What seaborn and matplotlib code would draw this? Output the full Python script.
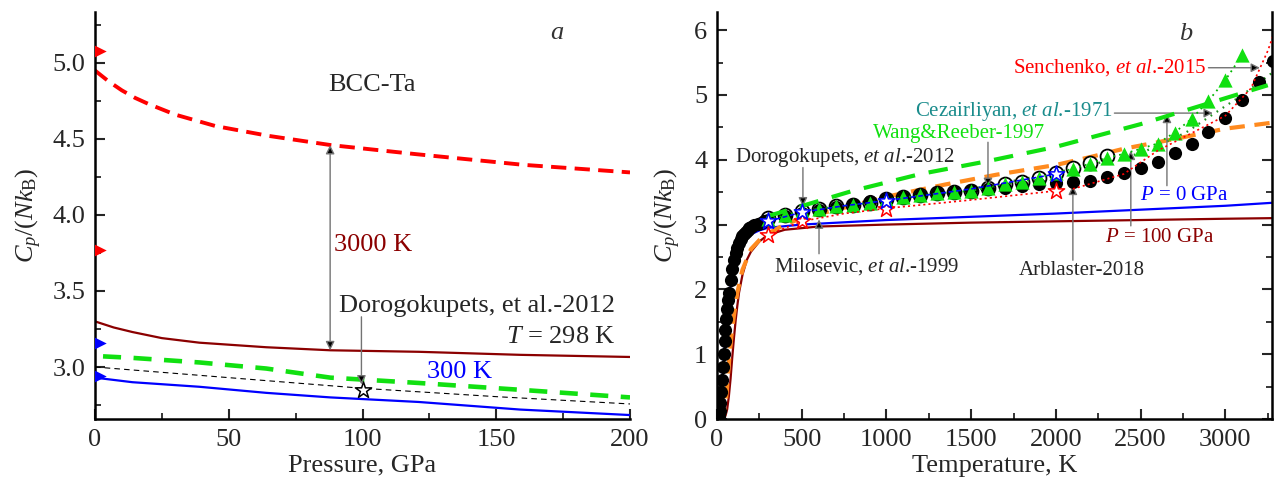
import matplotlib
matplotlib.use("Agg")
import matplotlib.pyplot as plt
import seaborn as sns
from matplotlib.ticker import MultipleLocator, FormatStrFormatter

sns.set_style("ticks")
plt.rcParams.update({
    "font.family": ["Liberation Serif", "DejaVu Serif"],
    "mathtext.fontset": "custom",
    "mathtext.rm": "Liberation Serif",
    "mathtext.it": "Liberation Serif:italic",
    "mathtext.bf": "Liberation Serif:bold",
    "xtick.direction": "in",
    "ytick.direction": "in",
    "lines.scale_dashes": False,
    "axes.linewidth": 1.8,
    "axes.edgecolor": "black",
})

# ---------------- panel (a): Cp vs pressure ----------------
P_red3000 = [0, 5, 10, 15, 20, 30, 45, 65, 88, 120, 160, 200]
Cp_red3000 = [4.95, 4.88, 4.82, 4.77, 4.73, 4.66, 4.585, 4.52, 4.46, 4.40, 4.33, 4.28]

P_dr3000 = [0, 7, 14, 25, 39, 64, 88, 121, 159, 200]
Cp_dr3000 = [3.30, 3.26, 3.23, 3.19, 3.16, 3.13, 3.11, 3.10, 3.08, 3.066]

P_green = [3, 14, 39, 64, 88, 121, 159, 200]
Cp_green = [3.07, 3.06, 3.03, 2.99, 2.93, 2.895, 2.85, 2.80]

P_black = [0, 50, 100, 150, 200]
Cp_black = [3.00, 2.93, 2.86, 2.805, 2.757]

P_blue300 = [0, 14, 39, 64, 88, 121, 159, 200]
Cp_blue300 = [2.93, 2.90, 2.87, 2.83, 2.80, 2.77, 2.72, 2.684]

P_tri = [2, 2]
Cp_tri_red = [5.08, 3.77]
Cp_tri_blue = [3.16, 2.94]

P_star = [100]
Cp_star = [2.85]

# ---------------- panel (b): Cp vs temperature ----------------
T_p0 = [0, 10, 20, 30, 40, 50, 60, 70, 80, 100, 120, 150, 200, 250, 300, 500,
        1000, 1500, 2000, 2500, 3000, 3300]
Cp_p0 = [0, 0.03, 0.2, 0.55, 0.95, 1.3, 1.6, 1.85, 2.05, 2.35, 2.55, 2.72, 2.85,
         2.91, 2.95, 3.0, 3.07, 3.12, 3.17, 3.23, 3.29, 3.34]

T_p100 = [0, 50, 60, 70, 80, 90, 100, 110, 120, 130, 150, 175, 200, 250, 300, 400,
          600, 1000, 1500, 2000, 2500, 3000, 3300]
Cp_p100 = [0, 0.05, 0.15, 0.35, 0.62, 0.95, 1.25, 1.52, 1.75, 1.95, 2.22, 2.45,
           2.58, 2.74, 2.84, 2.92, 2.97, 3.0, 3.03, 3.05, 3.07, 3.09, 3.10]

T_orange = [0, 40, 50, 60, 70, 80, 90, 100, 120, 150, 200, 250, 300, 400, 500, 750,
            1000, 1350, 1650, 2000, 2200, 2400, 2700, 3000, 3300]
Cp_orange = [0, 0.05, 0.2, 0.5, 0.85, 1.15, 1.4, 1.6, 1.95, 2.3, 2.62, 2.76, 2.86,
             3.0, 3.1, 3.26, 3.43, 3.62, 3.77, 3.92, 4.04, 4.17, 4.32, 4.48, 4.58]

T_gdash = [300, 800, 1200, 1600, 2000, 2500, 3000, 3250]
Cp_gdash = [3.13, 3.52, 3.78, 3.98, 4.20, 4.55, 4.95, 5.15]

# Arblaster-2018 (filled circles)
T_arb = [10, 15, 20, 25, 30, 35, 40, 45, 50, 55, 60, 65, 70, 80, 90, 100, 110, 120,
         130, 140, 150, 160, 170, 180, 190, 200, 220, 240, 260, 280, 298,
         400, 500, 600, 700, 800, 900, 1000, 1100, 1200, 1300, 1400, 1500, 1600,
         1700, 1800, 1900, 2000, 2100, 2200, 2300, 2400, 2500, 2600, 2700, 2800,
         2900, 3000, 3100, 3200, 3280]
Cp_arb = [0.04, 0.12, 0.25, 0.42, 0.6, 0.8, 1.0, 1.2, 1.38, 1.55, 1.7, 1.83, 1.95,
          2.15, 2.32, 2.45, 2.56, 2.64, 2.71, 2.77, 2.82, 2.86, 2.89, 2.92, 2.94,
          2.96, 2.99, 3.01, 3.03, 3.05, 3.07,
          3.13, 3.18, 3.23, 3.27, 3.31, 3.36, 3.40, 3.43, 3.46, 3.49, 3.51, 3.53,
          3.55, 3.57, 3.60, 3.62, 3.64, 3.65, 3.68, 3.73, 3.79, 3.88, 3.97, 4.10,
          4.25, 4.43, 4.65, 4.92, 5.20, 5.52]

# open circles
T_open = [300, 400, 500, 600, 700, 800, 900, 1000, 1100, 1200, 1300, 1400, 1500,
          1600, 1700, 1800, 1900, 2000, 2100, 2200, 2300]
Cp_open = [3.10, 3.14, 3.21, 3.24, 3.28, 3.30, 3.34, 3.39, 3.42, 3.45, 3.48, 3.50,
           3.52, 3.57, 3.63, 3.66, 3.72, 3.80, 3.88, 3.95, 4.06]

# triangles joined by a dotted line
T_tri = [300, 400, 500, 600, 700, 800, 900, 1000, 1100, 1200, 1300, 1400, 1500,
         1600, 1700, 1800, 1900, 2000, 2100, 2200, 2300, 2400, 2500, 2600, 2700,
         2800, 2900, 3000, 3100]
Cp_tri = [3.08, 3.14, 3.22, 3.24, 3.28, 3.30, 3.34, 3.39, 3.42, 3.45, 3.48, 3.50,
          3.52, 3.57, 3.63, 3.66, 3.72, 3.80, 3.86, 3.94, 4.03, 4.09, 4.17, 4.25,
          4.42, 4.63, 4.91, 5.23, 5.62]

# Cezairliyan-1971 (dotted)
T_cez = [1500, 2000, 2500, 2767, 2926, 3100, 3275]
Cp_cez = [3.55, 3.80, 4.10, 4.42, 4.70, 5.00, 5.34]

# Senchenko-2015 (red dotted)
T_sen = [2100, 2400, 2600, 2800, 3000, 3150, 3250, 3300]
Cp_sen = [3.55, 3.78, 4.14, 4.41, 4.68, 5.10, 5.68, 6.05]

# stars with lines at 0 and 100 GPa
T_star = [300, 500, 1000, 2000]
Cp_star_p0 = [3.05, 3.20, 3.37, 3.78]
Cp_star_p100 = [2.84, 3.05, 3.24, 3.52]
T_sline = [300, 500, 750, 1000, 1500, 2000]
Cp_sline_p0 = [3.05, 3.19, 3.29, 3.37, 3.55, 3.78]
Cp_sline_p100 = [2.84, 3.05, 3.17, 3.25, 3.38, 3.52]

RED = "#ff0000"
DRED = "#8b0000"
GREEN = "#11e011"
BLUE = "#0000ff"
ORANGE = "#ff8a1e"
TEAL = "#1a8c8c"
DGREEN = "#1e8f1e"

W, H = 1274, 488
fig = plt.figure(figsize=(W / 100, H / 100), dpi=100)
ax1 = fig.add_axes([95 / W, 1 - 419 / H, (630 - 95) / W, (419 - 12) / H])
ax2 = fig.add_axes([717 / W, 1 - 419 / H, (1272 - 717) / W, (419 - 12) / H])


def line(ax, x, y, color, lw, dashes=None, z=2):
    sns.lineplot(x=x, y=y, ax=ax, color=color, linewidth=lw, sort=False,
                 estimator=None, legend=False, zorder=z)
    ln = ax.lines[-1]
    if dashes is not None:
        ln.set_dashes(dashes)
    return ln


def points(ax, x, y, marker, s, face, edge, lw=0.0, z=4):
    sns.scatterplot(x=x, y=y, ax=ax, marker=marker, s=s, color=face,
                    edgecolor=edge, linewidth=lw, legend=False, zorder=z)


FS = 19

# ---- panel (a)
line(ax1, P_red3000, Cp_red3000, RED, 2.8, dashes=(11, 6))
line(ax1, P_dr3000, Cp_dr3000, DRED, 1.6)
line(ax1, P_green, Cp_green, GREEN, 3.3, dashes=(13, 9))
line(ax1, P_black, Cp_black, "black", 0.8, dashes=(4, 3))
line(ax1, P_blue300, Cp_blue300, BLUE, 1.6)
points(ax1, P_tri, Cp_tri_red, ">", 80, RED, RED)
points(ax1, P_tri, Cp_tri_blue, ">", 80, BLUE, BLUE)
points(ax1, P_star, Cp_star, "*", 150, "white", "black", lw=1.1, z=6)

ax1.set_xlim(0, 200)
ax1.set_ylim(2.658, 5.335)
ax1.xaxis.set_major_locator(MultipleLocator(50))
ax1.xaxis.set_minor_locator(MultipleLocator(25))
ax1.yaxis.set_major_locator(MultipleLocator(0.5))
ax1.yaxis.set_minor_locator(MultipleLocator(0.25))
ax1.yaxis.set_major_formatter(FormatStrFormatter("%.1f"))
sns.despine(ax=ax1)

ax1.text(172.7, 5.2, "a", fontsize=FS, style="italic", color="#333333",
         ha="center", va="center")
ax1.text(103.5, 4.855, "BCC-Ta", fontsize=FS, ha="center", va="center")
ax1.text(104, 3.80, "3000 K", fontsize=FS, color=DRED, ha="center", va="center")
ax1.text(194.5, 3.40, "Dorogokupets, et al.-2012", fontsize=FS, ha="right",
         va="center")
ax1.text(194.5, 3.20, r"$T$ = 298 K", fontsize=FS, ha="right", va="center")
ax1.text(136.4, 2.97, "300 K", fontsize=FS, color=BLUE, ha="center", va="center")

arrow_kw = dict(arrowstyle="-|>", fc="black", ec="0.45", lw=1.0,
                mutation_scale=13, shrinkA=0, shrinkB=0)
ax1.annotate("", xy=(87.9, 4.46), xytext=(87.9, 3.11),
             arrowprops=dict(arrow_kw, arrowstyle="<|-|>"))
ax1.annotate("", xy=(99.6, 2.885), xytext=(99.6, 3.33), arrowprops=arrow_kw)

ax1.set_xlabel("Pressure, GPa", fontsize=FS, labelpad=3)
ax1.set_ylabel(r"$C_p/(Nk_\mathrm{B})$", fontsize=FS, labelpad=6)

# ---- panel (b)
line(ax2, T_p100, Cp_p100, DRED, 1.6, z=2)
line(ax2, T_p0, Cp_p0, BLUE, 1.6, z=2)
line(ax2, T_orange, Cp_orange, ORANGE, 3.0, dashes=(11, 7), z=2)
line(ax2, T_cez, Cp_cez, DGREEN, 1.6, dashes=(1.2, 4), z=2)
line(ax2, T_sen, Cp_sen, RED, 1.2, dashes=(1.5, 2.2), z=7)

points(ax2, T_open, Cp_open, "o", 100, "white", "black", lw=1.3, z=3)
points(ax2, T_arb, Cp_arb, "o", 90, "black", "black", lw=0, z=4)
line(ax2, T_tri, Cp_tri, "#00b400", 1.3, dashes=(1.3, 3), z=5)
points(ax2, T_tri, Cp_tri, "^", 105, GREEN, GREEN, lw=0, z=5)
line(ax2, T_gdash, Cp_gdash, GREEN, 3.0, dashes=(14, 10), z=6)
line(ax2, T_sline, Cp_sline_p100, RED, 1.2, dashes=(1.5, 2.2), z=6)
points(ax2, T_star, Cp_star_p100, "*", 150, "white", RED, lw=1.1, z=6)
line(ax2, T_sline, Cp_sline_p0, BLUE, 1.2, dashes=(3.5, 2), z=6)
points(ax2, T_star, Cp_star_p0, "*", 150, "white", BLUE, lw=1.1, z=6)

ax2.set_xlim(0, 3275)
ax2.set_ylim(0, 6.28)
ax2.xaxis.set_major_locator(MultipleLocator(500))
ax2.xaxis.set_minor_locator(MultipleLocator(250))
ax2.yaxis.set_major_locator(MultipleLocator(1))
ax2.yaxis.set_minor_locator(MultipleLocator(0.5))
sns.despine(ax=ax2, right=False)
ax2.tick_params(which="both", right=True, labelright=False)

FS2 = 15
ax2.text(2767, 5.94, "b", fontsize=FS, style="italic", color="#333333",
         ha="center", va="center")
ax2.text(2891, 5.42, r"Senchenko, $et\ al$.-2015", fontsize=FS2, color=RED,
         ha="right", va="center")
ax2.annotate("", xy=(3204, 5.42), xytext=(2900, 5.42), arrowprops=arrow_kw)
ax2.text(2336, 4.74, r"Cezairliyan, $et\ al$.-1971", fontsize=FS2, color=TEAL,
         ha="right", va="center")
ax2.annotate("", xy=(2926, 4.72), xytext=(2345, 4.72), arrowprops=arrow_kw)
ax2.text(1935, 4.41, "Wang&Reeber-1997", fontsize=FS2, color=GREEN,
         ha="right", va="center")
ax2.annotate("", xy=(1599, 3.58), xytext=(1599, 4.27), arrowprops=arrow_kw)
ax2.text(1404, 4.03, r"Dorogokupets, $et\ al$.-2012", fontsize=FS2,
         ha="right", va="center")
ax2.annotate("", xy=(507, 3.28), xytext=(507, 3.88), arrowprops=arrow_kw)
ax2.text(885, 2.35, r"Milosevic, $et\ al$.-1999", fontsize=FS2,
         ha="center", va="center")
ax2.annotate("", xy=(602, 3.08), xytext=(602, 2.55), arrowprops=arrow_kw)
ax2.text(2153, 2.29, "Arblaster-2018", fontsize=FS2, ha="center", va="center")
ax2.annotate("", xy=(2100, 3.6), xytext=(2100, 2.45), arrowprops=arrow_kw)
ax2.text(2496, 3.45, r"$P$ = 0 GPa", fontsize=FS2, color=BLUE,
         ha="left", va="center")
ax2.annotate("", xy=(2655, 4.71), xytext=(2655, 3.6), arrowprops=arrow_kw)
ax2.text(2289, 2.80, r"$P$ = 100 GPa", fontsize=FS2, color=DRED,
         ha="left", va="center")
ax2.annotate("", xy=(2442, 4.14), xytext=(2442, 2.98), arrowprops=arrow_kw)

ax2.set_xlabel("Temperature, K", fontsize=FS, labelpad=3)
ax2.set_ylabel(r"$C_p/(Nk_\mathrm{B})$", fontsize=FS, labelpad=8)

for ax in (ax1, ax2):
    ax.tick_params(which="major", length=7, width=1.5, labelsize=FS, pad=7)
    ax.tick_params(which="minor", length=4.5, width=1.3)
    ax.set_facecolor("white")

fig.savefig("out.png", dpi=100, facecolor="white")
